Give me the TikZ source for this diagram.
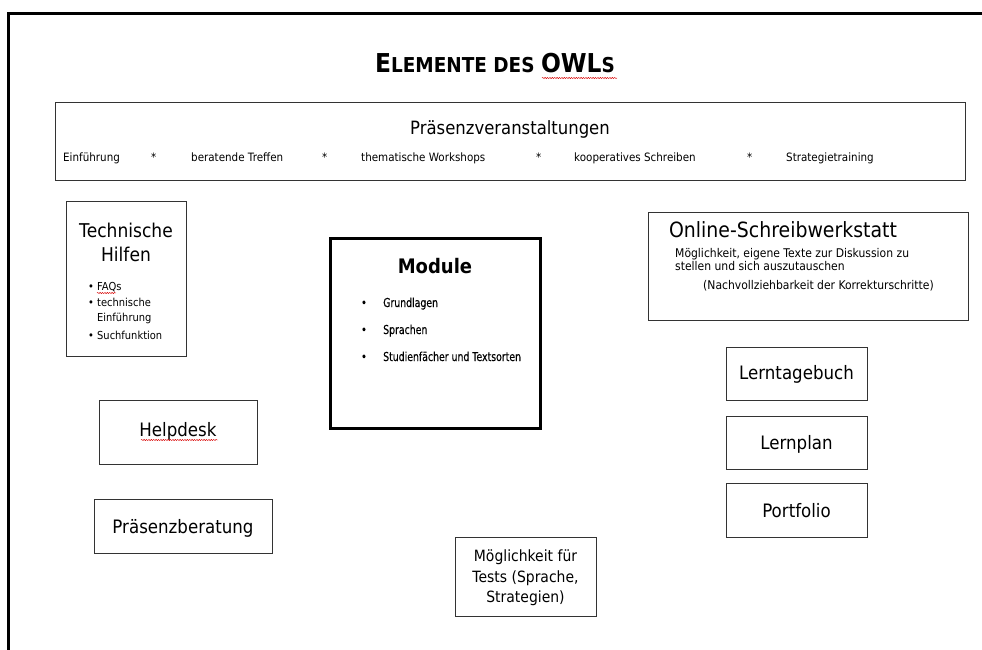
\documentclass[tikz,border=0pt]{standalone}
\usepackage{fontspec}
\setmainfont{DejaVu Sans}[FakeStretch=0.9]
\newfontfamily\modfont{DejaVu Sans}[FakeStretch=0.76, FakeBold=0.3]
\usetikzlibrary{decorations.pathmorphing}
\newcommand{\fs}[1]{\fontsize{#1}{#1}\selectfont}
\begin{document}
\begin{tikzpicture}[x=1pt,y=-1pt,
  box/.style={draw=black!80, line width=1pt, inner sep=0pt, fill=white},
  lab/.style={font=\fs{18.5}, inner sep=0pt, anchor=base},
  sm/.style={font=\fs{11.5}, inner sep=0pt, anchor=base west},
  mid/.style={font=\fs{12}, inner sep=0pt, anchor=base west},
  modtxt/.style={font=\modfont\fs{12.3}, inner sep=0pt, anchor=base west},
  squig/.style={draw=red!85!black, line width=0.45pt, decorate,
    decoration={snake, amplitude=0.6pt, segment length=2.4pt}}]
\useasboundingbox (0,0) rectangle (982,650);
% frame
\draw[line width=3pt] (8.5,650) |- (982,13.5);
% title
\node[inner sep=0pt] (title) at (495,63.5)
  {\bfseries\fs{26}E\fs{20.5}LEMENTE DES \fs{26}OWL\fs{20.5}S};
\coordinate (sqA1) at (542,78); \coordinate (sqA2) at (617,78);
\draw[squig] (sqA1) -- (sqA2);
% Praesenzveranstaltungen
\node[box, minimum width=910pt, minimum height=77pt] (praes) at (510,141.5) {};
\node[lab, font=\fs{18.3}] (praesT) at (510,135) {Präsenzveranstaltungen};
\node[sm] (i1) at (63,161) {Einführung};
\node[sm] (s1) at (151,161) {*};
\node[sm] (i2) at (191,161) {beratende Treffen};
\node[sm] (s2) at (322,161) {*};
\node[sm] (i3) at (361,161) {thematische Workshops};
\node[sm] (s3) at (536,161) {*};
\node[sm] (i4) at (574,161) {kooperatives Schreiben};
\node[sm] (s4) at (747,161) {*};
\node[sm] (i5) at (786,161) {Strategietraining};
% Technische Hilfen
\node[box, minimum width=120pt, minimum height=155pt] (tech) at (126,278.5) {};
\node[lab, font=\fs{19}] (techT1) at (126,237) {Technische};
\node[lab, font=\fs{19}] (techT2) at (126,261) {Hilfen};
\node[sm, font=\fs{11}] (tb1) at (88,290) {\textbullet};
\node[sm, font=\fs{11}] (tf1) at (97,290) {FAQs};
\node[sm, font=\fs{11}] (tb2) at (88,306) {\textbullet};
\node[sm, font=\fs{11}] (tf2) at (97,306) {technische};
\node[sm, font=\fs{11}] (tf3) at (97,321) {Einführung};
\node[sm, font=\fs{11}] (tb3) at (88,339) {\textbullet};
\node[sm, font=\fs{11}] (tf4) at (97,339) {Suchfunktion};
\coordinate (sqB1) at (97,293); \coordinate (sqB2) at (116,293);
\draw[squig] (sqB1) -- (sqB2);
% Module
\node[draw=black, line width=3pt, inner sep=0pt, minimum width=210pt, minimum height=190pt] (mod) at (435,333) {};
\node[lab, font=\fs{20}\bfseries] (modT) at (435,273) {Module};
\node[modtxt] (mb1) at (361,307) {\textbullet};
\node[modtxt] (m1) at (383,307) {Grundlagen};
\node[modtxt] (mb2) at (361,334) {\textbullet};
\node[modtxt] (m2) at (383,334) {Sprachen};
\node[modtxt] (mb3) at (361,361) {\textbullet};
\node[modtxt] (m3) at (383,361) {Studienfächer und Textsorten};
% Online-Schreibwerkstatt
\node[box, minimum width=320pt, minimum height=108pt] (online) at (808,266) {};
\node[lab, font=\fs{21}] (onT) at (783,237) {Online-Schreibwerkstatt};
\node[mid] (on1) at (675,257) {Möglichkeit, eigene Texte zur Diskussion zu};
\node[mid] (on2) at (675,270) {stellen und sich auszutauschen};
\node[mid] (on3) at (703,289) {(Nachvollziehbarkeit der Korrekturschritte)};
% Helpdesk
\node[box, minimum width=158pt, minimum height=64pt] (help) at (178,432) {};
\node[lab] (helpT) at (178,436) {Helpdesk};
\coordinate (sqC1) at (141,440); \coordinate (sqC2) at (218,440);
\draw[squig] (sqC1) -- (sqC2);
% Praesenzberatung
\node[box, minimum width=178pt, minimum height=54pt] (pb) at (183,526) {};
\node[lab] (pbT) at (183,533) {Präsenzberatung};
% Tests
\node[box, minimum width=141pt, minimum height=79pt] (tests) at (525.5,576.5) {};
\node[lab, font=\fs{15.5}] (te1) at (525.5,561) {Möglichkeit für};
\node[lab, font=\fs{15.5}] (te2) at (525.5,582) {Tests (Sprache,};
\node[lab, font=\fs{15.5}] (te3) at (525.5,602) {Strategien)};
% right column
\node[box, minimum width=141pt, minimum height=53pt] (ltb) at (796.5,373.5) {};
\node[lab] (ltbT) at (796.5,379) {Lerntagebuch};
\node[box, minimum width=141pt, minimum height=53pt] (lp) at (796.5,442.5) {};
\node[lab] (lpT) at (796.5,449) {Lernplan};
\node[box, minimum width=141pt, minimum height=54pt] (pf) at (796.5,510) {};
\node[lab] (pfT) at (796.5,517) {Portfolio};
\end{tikzpicture}
\end{document}
